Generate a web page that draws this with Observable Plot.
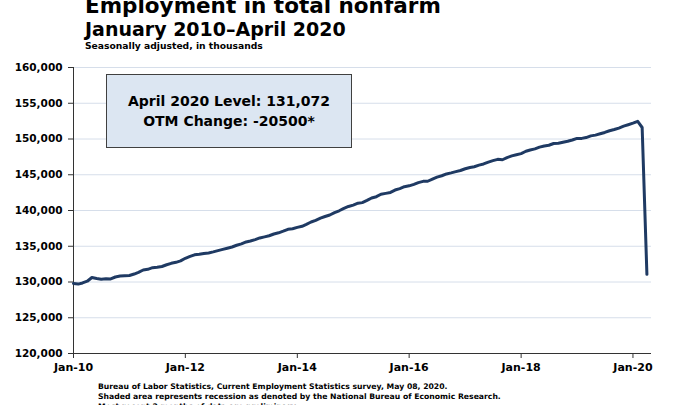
<!DOCTYPE html>
<html><head><meta charset="utf-8">
<script src="https://cdn.jsdelivr.net/npm/d3@7"></script>
<script src="https://cdn.jsdelivr.net/npm/@observablehq/plot@0.6"></script>
<style>
body{margin:0;background:#fff;width:694px;height:405px;overflow:hidden;position:relative;font-family:"DejaVu Sans",sans-serif;font-weight:bold;color:#000}
.t{position:absolute;left:85px;white-space:nowrap;line-height:1}
#chart{position:absolute;left:0;top:58px}
#box{position:absolute;left:106px;top:74px;width:246px;height:74px;box-sizing:border-box;border:1.5px solid #404040;background:#dce6f2;display:flex;flex-direction:column;justify-content:center;align-items:center;font-size:14px;line-height:20px}
.f{position:absolute;left:98px;font-size:7.7px;white-space:nowrap;line-height:1}
</style></head><body>
<div class="t" style="top:-5px;font-size:21.5px">Employment in total nonfarm</div>
<div class="t" style="top:20px;font-size:19px">January 2010–April 2020</div>
<div class="t" style="top:41px;font-size:9.2px">Seasonally adjusted, in thousands</div>
<div id="chart"></div>
<div id="box"><div id="l1"></div><div id="l2"></div></div>
<div class="f" style="top:382.5px">Bureau of Labor Statistics, Current Employment Statistics survey, May 08, 2020.</div>
<div class="f" style="top:392.8px">Shaded area represents recession as denoted by the National Bureau of Economic Research.</div>
<div class="f" style="top:403px">Most recent 2 months of data are preliminary.</div>
<script>
// Total nonfarm employment, seasonally adjusted, thousands (monthly, Jan of each year first)
const emp2010 = [129798,129705,129865,130110,130630,130487,130398,130445,130436,130700,130827,130873];
const emp2011 = [130907,131115,131354,131676,131776,132000,132064,132173,132409,132613,132753,132963];
const emp2012 = [133316,133578,133803,133874,133988,134062,134213,134386,134566,134729,134893,135136];
const emp2013 = [135326,135603,135734,135928,136161,136314,136466,136716,136882,137107,137372,137443];
const emp2014 = [137637,137788,138060,138388,138618,138923,139161,139374,139707,139962,140298,140568];
const emp2015 = [140756,141022,141103,141409,141753,141932,142272,142396,142528,142860,143067,143336];
const emp2016 = [143451,143663,143903,144075,144091,144387,144667,144859,145114,145263,145437,145593];
const emp2017 = [145836,146016,146125,146350,146509,146763,146969,147152,147096,147395,147645,147800];
const emp2018 = [147955,148285,148467,148621,148864,149032,149123,149370,149404,149547,149683,149856];
const emp2019 = [150081,150085,150202,150438,150543,150731,150917,151156,151323,151528,151800,151995];
const emp2020 = [152212,152463,151609,131072];
const startYear = 2010;
const yTicks = [120000,125000,130000,135000,140000,145000,150000,155000,160000];
const xTickYears = [2010,2012,2014,2016,2018,2020];
const xTickLabels = ["Jan-10","Jan-12","Jan-14","Jan-16","Jan-18","Jan-20"];
const boxLines = ["April 2020 Level: 131,072","OTM Change: -20500*"];

const series = [emp2010,emp2011,emp2012,emp2013,emp2014,emp2015,emp2016,emp2017,emp2018,emp2019,emp2020];
const data = [];
series.forEach((arr, yi) => arr.forEach((v, m) => data.push({date: new Date(Date.UTC(startYear + yi, m, 1)), value: v})));
const xStart = new Date(Date.UTC(startYear, 0, 1));
const xEnd = new Date(Date.UTC(2020, 4, 1));
const xTicks = xTickYears.map(y => new Date(Date.UTC(y, 0, 1)));

document.getElementById("l1").textContent = boxLines[0];
document.getElementById("l2").textContent = boxLines[1];

const chart = Plot.plot({
  width: 694, height: 317,
  marginTop: 9, marginBottom: 22, marginLeft: 73, marginRight: 43,
  style: {fontFamily: '"DejaVu Sans", sans-serif', fontWeight: "bold", color: "#000", background: "transparent"},
  x: {type: "utc", domain: [xStart, xEnd]},
  y: {domain: [120000, 160000]},
  marks: [
    Plot.gridY(yTicks.slice(1), {stroke: "#d6deea", strokeOpacity: 1}),
    Plot.ruleY([yTicks[0]], {stroke: "#333"}),
    Plot.ruleX([xStart], {stroke: "#333"}),
    Plot.axisY(yTicks, {tickFormat: d3.format(","), tickSize: 5, tickPadding: 6, fontSize: 10.5, stroke: "#333", label: null}),
    Plot.axisX(xTicks, {tickFormat: (d, i) => xTickLabels[xTickYears.indexOf(d.getUTCFullYear())], tickSize: 5, tickPadding: 5, fontSize: 11, stroke: "#333", label: null}),
    Plot.line(data, {x: "date", y: "value", stroke: "#1f3a63", strokeWidth: 3, strokeLinejoin: "round"})
  ]
});
document.getElementById("chart").appendChild(chart);
</script>
</body></html>
